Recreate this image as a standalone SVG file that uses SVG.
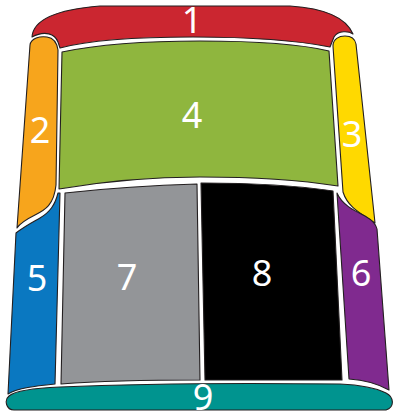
<svg xmlns="http://www.w3.org/2000/svg" width="393" height="415" viewBox="0 0 393 415">
<style>
.s{stroke:#231f20;stroke-width:1.1;stroke-linejoin:round}
.t{font-family:"Noto Sans","Open Sans",sans-serif;fill:#fff;text-anchor:middle;font-size:36px}
</style>
<rect width="393" height="415" fill="#fff"/>
<g id="n1">
<path class="s" fill="#cb2630" d="M32,37 C33,22 50,10 100,6 L290,6 C320,8 345,15 353,34 C349,31 338,30 334,37 L330,47 C300,41 250,37 193,37 C130,37 90,40 60,48 L58,42 C55,34 45,30 32,37 Z"/>
<text class="t" x="192" y="33" font-size="30">1</text>
</g>
<g id="n2">
<path class="s" fill="#f7a51c" d="M30,45 C31,38 40,36 47,37 C54,38 57,43 58,50 L56,185 C54,205 45,210 35,215 C25,220 20,223 17,228 Z"/>
<text class="t" x="40" y="143" font-size="32">2</text>
</g>
<g id="n3">
<path class="s" fill="#ffd900" d="M333,46 C333,39 339,36 345,36 C352,36 355,39 356,44 L375,223 C362,214 348,208 343,192 Z"/>
<text class="t" x="352" y="147">3</text>
</g>
<g id="n4">
<path class="s" fill="#8fb63e" d="M62,52 C100,44 150,41 200,41 C250,41 300,44 329,51 L338,186 C300,180 250,177 200,177 C150,177 100,182 59,189 Z"/>
<text class="t" x="192" y="128">4</text>
</g>
<g id="n5">
<path class="s" fill="#0a78c1" d="M16,233 C25,226 33,222 40,218 C50,212 55,205 58,193 L60,193 L55,384 C35,386 18,388 8,394 Z"/>
<text class="t" x="37" y="291">5</text>
</g>
<g id="n6">
<path class="s" fill="#802a8f" d="M337,193 C342,205 355,211 365,216 C372,220 376,224 377,229 L389,390 C380,385 365,380 349,379 Z"/>
<text class="t" x="361" y="286">6</text>
</g>
<g id="n7">
<path class="s" fill="#939598" d="M65,193 C110,188 160,185 197,184 L200,380 C150,380 100,381 61,384 Z"/>
<text class="t" x="127" y="290">7</text>
</g>
<g id="n8">
<path class="s" fill="#000" d="M201,183 C250,183 300,186 333,191 L342,380 L205,380 Z"/>
<text class="t" x="262" y="286">8</text>
</g>
<g id="n9">
<path class="s" fill="#00948f" d="M9,396 C15,391 35,388 60,387 C150,383 250,383 340,384 C362,385 378,389 386,393 C394,397 395,407 386,410 L14,410 C6,410 4,400 9,396 Z"/>
<text class="t" x="203" y="410">9</text>
</g>
</svg>
